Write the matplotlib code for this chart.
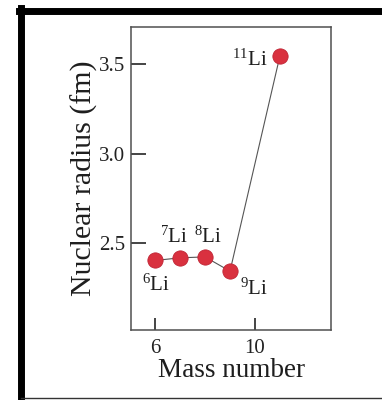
import matplotlib
matplotlib.use('Agg')
import matplotlib.pyplot as plt
from matplotlib.lines import Line2D

plt.rcParams['font.family'] = ['Liberation Serif', 'DejaVu Serif']
plt.rcParams['mathtext.fontset'] = 'custom'
plt.rcParams['mathtext.rm'] = 'Liberation Serif'
plt.rcParams['mathtext.it'] = 'Liberation Serif:italic'

mass = [6, 7, 8, 9, 11]
radius = [2.40, 2.415, 2.42, 2.34, 3.55]
labels = ['$^{6}$Li', '$^{7}$Li', '$^{8}$Li', '$^{9}$Li', '$^{11}$Li']
# label offsets in points (dx, dy)
offsets = [(1, -18), (-4, 15), (2.5, 14.5), (17, -13), (-22, -3.5)]

fig = plt.figure(figsize=(3.82, 4.0), dpi=100)
ax = fig.add_axes([0.343, 0.175, 0.5235, 0.7575])

ax.plot(mass, radius, color='#555555', lw=0.8, zorder=1)
ax.plot(mass, radius, 'o', ms=11, color='#d9313f', mec='#c02535', mew=0.6, zorder=2)
for xv, yv, lab, (dx, dy) in zip(mass, radius, labels, offsets):
    ax.annotate(lab, (xv, yv), xytext=(dx, dy), textcoords='offset points',
                ha='center', va='center', fontsize=15, color='#1e1e1e')

ax.set_xlim(5.04, 13.04)
ax.set_ylim(2.01, 3.71)
ax.set_xticks([6, 10])
ax.set_yticks([2.5, 3.0, 3.5])
ax.set_yticklabels(['2.5', '3.0', '3.5'])
ax.tick_params(direction='in', length=8.5, width=1.4, labelsize=15, colors='#444444',
               labelcolor='#222222', pad=4)
ax.tick_params(axis='y', length=11)
ax.tick_params(axis='x', pad=6.5)
for sp in ax.spines.values():
    sp.set_color('#505050')
    sp.set_linewidth(1.1)
ax.set_xlabel('Mass number', fontsize=19.5, color='#1e1e1e', labelpad=0)
ax.set_ylabel('Nuclear radius (fm)', fontsize=21.5, color='#1e1e1e', labelpad=1)

# outer black frame
W, H = 382, 400
fig.add_artist(Line2D([21 / W, 21 / W], [0, 1 - 8 / H], transform=fig.transFigure, color='black', lw=5))
fig.add_artist(Line2D([18.5 / W, 1], [1 - 11 / H, 1 - 11 / H], transform=fig.transFigure, color='black', lw=5))
fig.add_artist(Line2D([21 / W, 1], [2 / H, 2 / H], transform=fig.transFigure, color='#333333', lw=1))

fig.savefig('out.png', dpi=100)
